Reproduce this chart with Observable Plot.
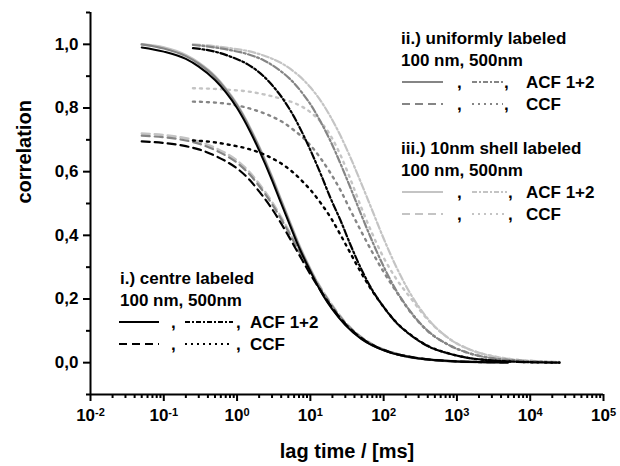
<!DOCTYPE html>
<html>
<head>
<meta charset="utf-8">
<script src="https://cdn.jsdelivr.net/npm/d3@7"></script>
<script src="https://cdn.jsdelivr.net/npm/@observablehq/plot@0.6"></script>
<style>
  html, body { margin: 0; padding: 0; background: #fff; }
  #wrap { position: relative; width: 620px; height: 466px; font-family: "Liberation Sans", Arial, sans-serif; }
  #wrap > svg { position: absolute; left: 0; top: 0; }
</style>
</head>
<body>
<div id="wrap"></div>
<script>
// ---------- data ----------
// lag times (ms), 100 nm particles
const tau100 = [0.05, 0.1, 0.2, 0.3, 0.5, 0.7, 1, 1.5, 2, 3, 4, 5, 7, 10, 15, 20, 30, 50, 70, 100, 150, 200, 300, 500, 1000, 2000, 5000];
// lag times (ms), 500 nm particles
const tau500 = [0.25, 0.5, 0.8, 1.4, 2.3, 3, 4.3, 6, 8, 10, 14, 19, 26, 35, 50, 70, 100, 150, 230, 400, 800, 1500, 3000, 6000, 12000, 25000];

// i.) centre labeled
const centreAcf100 = [0.99, 0.977, 0.954, 0.93, 0.888, 0.85, 0.8, 0.727, 0.667, 0.573, 0.5, 0.445, 0.362, 0.287, 0.21, 0.167, 0.118, 0.074, 0.054, 0.039, 0.026, 0.02, 0.013, 0.008, 0.004, 0.002, 0.001];
const centreCcf100 = [0.695, 0.69, 0.68, 0.67, 0.65, 0.633, 0.61, 0.573, 0.538, 0.483, 0.437, 0.399, 0.34, 0.278, 0.214, 0.172, 0.122, 0.077, 0.056, 0.04, 0.027, 0.021, 0.014, 0.008, 0.004, 0.002, 0.001];
const centreAcf500 = [0.988, 0.977, 0.962, 0.937, 0.9, 0.872, 0.826, 0.772, 0.716, 0.668, 0.59, 0.515, 0.445, 0.372, 0.292, 0.228, 0.175, 0.125, 0.088, 0.052, 0.028, 0.014, 0.007, 0.003, 0.001, 0];
const centreCcf500 = [0.698, 0.692, 0.684, 0.672, 0.655, 0.642, 0.621, 0.595, 0.567, 0.543, 0.5, 0.455, 0.4, 0.345, 0.28, 0.225, 0.175, 0.126, 0.089, 0.053, 0.028, 0.014, 0.007, 0.003, 0.001, 0];

// ii.) uniformly labeled
const uniformAcf100 = [1.0, 0.987, 0.963, 0.939, 0.897, 0.858, 0.808, 0.735, 0.675, 0.58, 0.507, 0.451, 0.367, 0.291, 0.213, 0.169, 0.12, 0.075, 0.055, 0.04, 0.027, 0.02, 0.013, 0.008, 0.004, 0.002, 0.001];
const uniformCcf100 = [0.713, 0.708, 0.698, 0.688, 0.668, 0.651, 0.628, 0.59, 0.555, 0.498, 0.451, 0.412, 0.35, 0.287, 0.22, 0.177, 0.125, 0.079, 0.057, 0.041, 0.028, 0.021, 0.014, 0.008, 0.004, 0.002, 0.001];
const uniformAcf500 = [0.998, 0.99, 0.982, 0.969, 0.95, 0.935, 0.909, 0.878, 0.843, 0.812, 0.754, 0.694, 0.623, 0.551, 0.462, 0.381, 0.302, 0.225, 0.162, 0.1, 0.054, 0.029, 0.014, 0.007, 0.003, 0.001];
const uniformCcf500 = [0.82, 0.817, 0.812, 0.8, 0.784, 0.773, 0.754, 0.73, 0.706, 0.683, 0.64, 0.594, 0.54, 0.48, 0.41, 0.347, 0.285, 0.222, 0.16, 0.099, 0.054, 0.029, 0.014, 0.007, 0.003, 0.001];

// iii.) 10nm shell labeled
const shellAcf100 = [1.0, 0.99, 0.966, 0.942, 0.9, 0.861, 0.811, 0.738, 0.678, 0.583, 0.51, 0.454, 0.37, 0.294, 0.216, 0.171, 0.121, 0.076, 0.055, 0.04, 0.027, 0.02, 0.013, 0.008, 0.004, 0.002, 0.001];
const shellCcf100 = [0.72, 0.715, 0.705, 0.695, 0.675, 0.658, 0.635, 0.597, 0.562, 0.505, 0.457, 0.417, 0.355, 0.291, 0.223, 0.18, 0.127, 0.08, 0.058, 0.041, 0.028, 0.021, 0.014, 0.008, 0.004, 0.002, 0.001];
const shellAcf500 = [1.0, 0.994, 0.988, 0.979, 0.965, 0.955, 0.937, 0.914, 0.889, 0.865, 0.821, 0.771, 0.711, 0.646, 0.561, 0.478, 0.39, 0.299, 0.218, 0.138, 0.074, 0.041, 0.021, 0.01, 0.005, 0.002];
const shellCcf500 = [0.862, 0.86, 0.857, 0.852, 0.843, 0.837, 0.827, 0.816, 0.802, 0.787, 0.755, 0.712, 0.65, 0.578, 0.485, 0.405, 0.33, 0.262, 0.205, 0.135, 0.074, 0.041, 0.021, 0.01, 0.005, 0.002];

// axis ticks
const yMajor = [0, 0.2, 0.4, 0.6, 0.8, 1.0];
const yMinor = [-0.1, 0.1, 0.3, 0.5, 0.7, 0.9, 1.1];
const xExponents = [-2, -1, 0, 1, 2, 3, 4, 5];
const xMinorFactors = [2, 3, 4, 5, 6, 7, 8, 9];

// ---------- styles ----------
const BLACK = "#000000", GRAY = "#858585", LIGHT = "#c4c4c4";
const DASH = "8,5", DOT = "2,5", DASHDOT = "7,2.5,2,2.5";

const xMajor = xExponents.map(e => Math.pow(10, e));
const xMinor = xExponents.slice(0, -1).flatMap(e => xMinorFactors.map(f => f * Math.pow(10, e)));

const rows = (taus, ys) => taus.map((t, i) => ({t, g: ys[i]}));

function curve(taus, ys, stroke, dash, width = 2) {
  return Plot.line(rows(taus, ys), {
    x: "t", y: "g", stroke, strokeWidth: width,
    strokeDasharray: dash, curve: "monotone-x"
  });
}

const chart = Plot.plot({
  width: 620,
  height: 466,
  marginLeft: 90,
  marginRight: 17,
  marginTop: 12,
  marginBottom: 72,
  x: {type: "log", domain: [1e-2, 1e5]},
  y: {domain: [-0.1, 1.1]},
  style: {fontFamily: "'Liberation Sans', Arial, sans-serif", fontWeight: "bold", fontSize: "17px", color: "#000", background: "#fff"},
  marks: [
    Plot.axisY({ticks: yMajor, tickSize: 7, tickPadding: 5, strokeWidth: 2,
      tickFormat: d => d.toFixed(1).replace(".", ","), label: null, fontSize: 17, fontWeight: "bold"}),
    Plot.axisY({ticks: yMinor, tickSize: 4, strokeWidth: 2, tickFormat: () => "", label: null}),
    Plot.axisX({ticks: xMajor, tickSize: 7, tickPadding: 7, strokeWidth: 2,
      tickFormat: d => "10^" + Math.round(Math.log10(d)), label: null, fontSize: 17, fontWeight: "bold"}),
    Plot.axisX({ticks: xMinor, tickSize: 4, strokeWidth: 2, tickFormat: () => "", label: null}),
    Plot.ruleX([1e-2], {strokeWidth: 2}),
    Plot.ruleY([-0.1], {strokeWidth: 2}),

    // shell (light gray)
    curve(tau100, shellAcf100, LIGHT, null, 2.6),
    curve(tau100, shellCcf100, LIGHT, DASH, 2.4),
    curve(tau500, shellAcf500, LIGHT, DASHDOT, 2.2),
    curve(tau500, shellCcf500, LIGHT, DOT, 2.4),
    // uniform (dark gray)
    curve(tau100, uniformAcf100, GRAY, null, 2.2),
    curve(tau100, uniformCcf100, GRAY, DASH, 2.2),
    curve(tau500, uniformAcf500, GRAY, DASHDOT, 2.2),
    curve(tau500, uniformCcf500, GRAY, DOT, 2.4),
    // centre (black)
    curve(tau100, centreAcf100, BLACK, null, 2),
    curve(tau100, centreCcf100, BLACK, DASH, 2.2),
    curve(tau500, centreAcf500, BLACK, DASHDOT, 2.2),
    curve(tau500, centreCcf500, BLACK, DOT, 2.4),

    Plot.text(["correlation"], {frameAnchor: "left", dx: -66, rotate: -90, fontSize: 20, fontWeight: "bold"}),
    Plot.text(["lag time / [ms]"], {frameAnchor: "bottom", dy: 63, fontSize: 20, fontWeight: "bold"})
  ]
});

const wrap = document.getElementById("wrap");
wrap.appendChild(chart);

// superscript exponents on x tick labels
d3.select(chart).selectAll('g[aria-label="x-axis tick label"] text').each(function () {
  const s = this.textContent;
  if (!s.startsWith("10^")) return;
  const exp = s.slice(3);
  const t = d3.select(this);
  t.text("10");
  t.append("tspan").attr("dy", "-0.45em").attr("font-size", 11).text(exp);
});

// ---------- legend overlay ----------
const leg = d3.select(wrap).append("svg")
  .attr("width", 620).attr("height", 466)
  .style("pointer-events", "none")
  .attr("font-family", "'Liberation Sans', Arial, sans-serif")
  .attr("font-weight", "bold").attr("font-size", 17);

const blocks = [
  {title: "ii.) uniformly labeled", color: GRAY, x: 401, y: 38,
   a: [402, 443], c1: 457, b: [472, 503], c2: 504, t: 526},
  {title: "iii.) 10nm shell labeled", color: LIGHT, x: 401, y: 148,
   a: [402, 443], c1: 457, b: [472, 507], c2: 508, t: 526},
  {title: "i.) centre labeled", color: BLACK, x: 120, y: 278,
   a: [119, 159], c1: 171, b: [185, 233], c2: 236, t: 250}
];
blocks.forEach(bk => {
  const rowY = [bk.y, bk.y + 22, bk.y + 44, bk.y + 66];
  leg.append("text").attr("x", bk.x).attr("y", rowY[0] + 6).text(bk.title);
  leg.append("text").attr("x", bk.x).attr("y", rowY[1] + 6).text("100 nm, 500nm");
  const items = [
    {y: rowY[2], d1: null, d2: DASHDOT, label: "ACF 1+2"},
    {y: rowY[3], d1: DASH, d2: DOT, label: "CCF"}
  ];
  items.forEach(it => {
    leg.append("line").attr("x1", bk.a[0]).attr("x2", bk.a[1]).attr("y1", it.y).attr("y2", it.y)
      .attr("stroke", bk.color).attr("stroke-width", 2.2).attr("stroke-dasharray", it.d1);
    leg.append("text").attr("x", bk.c1).attr("y", it.y + 6).text(",");
    leg.append("line").attr("x1", bk.b[0]).attr("x2", bk.b[1]).attr("y1", it.y).attr("y2", it.y)
      .attr("stroke", bk.color).attr("stroke-width", 2.2).attr("stroke-dasharray", it.d2 === DOT ? "2,4" : "5,2,2,2");
    leg.append("text").attr("x", bk.c2).attr("y", it.y + 6).text(",");
    leg.append("text").attr("x", bk.t).attr("y", it.y + 6).text(it.label);
  });
});
</script>
</body>
</html>
